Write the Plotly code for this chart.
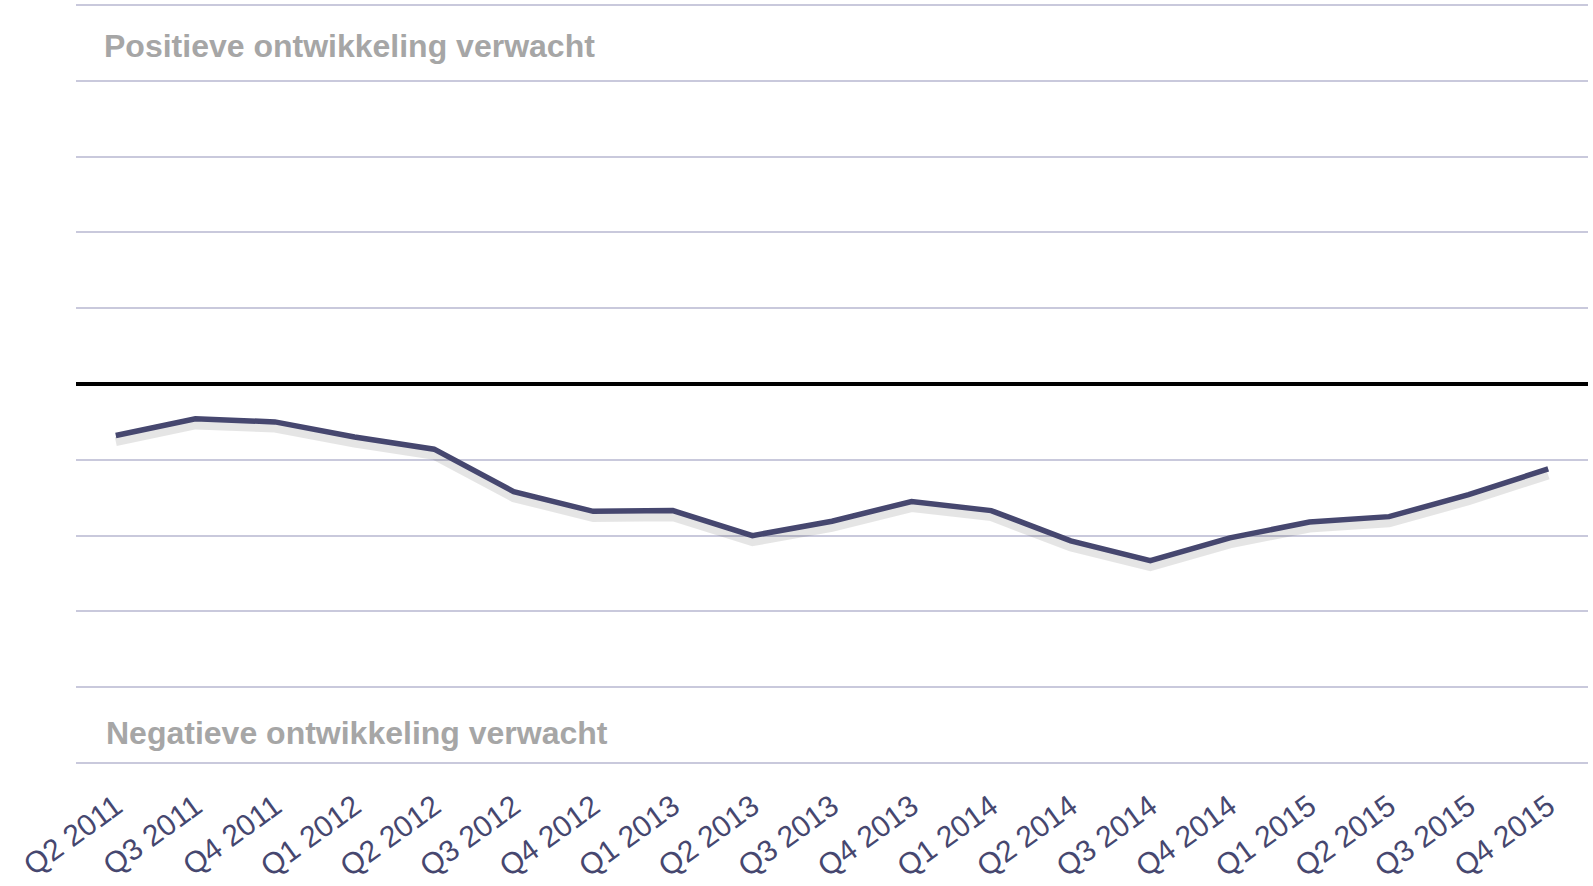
import plotly.graph_objects as go

kwartalen = ["Q2 2011", "Q3 2011", "Q4 2011", "Q1 2012", "Q2 2012", "Q3 2012", "Q4 2012",
             "Q1 2013", "Q2 2013", "Q3 2013", "Q4 2013", "Q1 2014", "Q2 2014", "Q3 2014",
             "Q4 2014", "Q1 2015", "Q2 2015", "Q3 2015", "Q4 2015"]
verwachting = [-0.68, -0.46, -0.50, -0.70, -0.86, -1.42, -1.68, -1.67, -2.00, -1.81,
               -1.55, -1.67, -2.07, -2.33, -2.03, -1.82, -1.75, -1.46, -1.12]

lijnkleur = "#46476f"
font = "Liberation Sans, Arial, sans-serif"

fig = go.Figure()
# zachte schaduw onder de lijn
fig.add_trace(go.Scatter(x=kwartalen, y=[v - 0.08 for v in verwachting], mode="lines",
                         line=dict(color="rgba(0,0,0,0.10)", width=9), hoverinfo="skip"))
fig.add_trace(go.Scatter(x=kwartalen, y=verwachting, mode="lines",
                         line=dict(color=lijnkleur, width=5.5)))

fig.update_layout(
    width=1593, height=886,
    margin=dict(l=76, r=5, t=2, b=120),
    plot_bgcolor="white", paper_bgcolor="white",
    showlegend=False,
    font=dict(family=font),
    xaxis=dict(range=[-0.5, 18.5], showgrid=False, zeroline=False, showline=False, automargin=False,
               tickangle=-36, tickfont=dict(size=30, color=lijnkleur), ticks="",
               ticklabelstandoff=16),
    yaxis=dict(range=[-5.04, 5.04], tickvals=list(range(-5, 6)), showticklabels=False,
               gridcolor="#c9c9dc", gridwidth=2, automargin=False,
               zeroline=True, zerolinecolor="black", zerolinewidth=4, showline=False),
    annotations=[
        dict(text="<b>Positieve ontwikkeling verwacht</b>", x=102, y=46, xref="paper", yref="paper",
             showarrow=False),
        dict(text="<b>Negatieve ontwikkeling verwacht</b>", x=104, y=733, xref="paper", yref="paper",
             showarrow=False),
    ],
)

# annotaties in pixelpositie omzetten naar paper-coordinaten
pw, ph = 1593 - 76 - 5, 886 - 2 - 120
for a in fig.layout.annotations:
    a.x = (a.x - 76) / pw
    a.y = 1 - (a.y - 2) / ph
    a.xanchor = "left"
    a.yanchor = "middle"
    a.font = dict(size=32, color="#a6a6a6", family=font)

# geen standaard body-marge van de browser
fig.write_html("out.html", config={"displayModeBar": False},
               post_script="document.body.style.margin='0';")
